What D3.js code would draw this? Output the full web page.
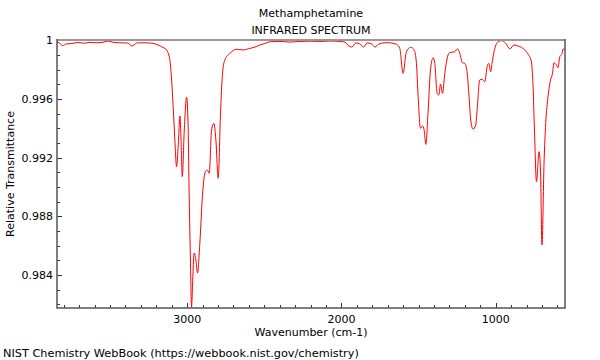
<!DOCTYPE html>
<html><head><meta charset="utf-8">
<script src="https://cdn.jsdelivr.net/npm/d3@7"></script>
<style>body{margin:0;background:#fff}svg{display:block}text{font-family:"DejaVu Sans",sans-serif;fill:#000}</style>
</head><body>
<svg id="c" width="600" height="360"></svg>
<script>
const wavenumber = [3842,3825,3805,3786,3747,3708,3669,3630,3591,3552,3514,3475,3436,3397,3378,3360,3345,3326,3293,3254,3216,3190,3157,3133,3122,3112,3101,3091,3080,3069,3058,3047,3040,3032,3019,3004,2995,2987,2979,2972,2963,2955,2944,2933,2918,2900,2885,2870,2857,2842,2827,2814,2799,2784,2771,2756,2723,2680,2637,2594,2561,2529,2497,2464,2399,2335,2270,2205,2140,2075,2010,1978,1952,1933,1907,1881,1855,1835,1809,1783,1757,1708,1643,1622,1601,1579,1551,1529,1514,1503,1488,1475,1464,1453,1439,1423,1406,1395,1380,1369,1358,1345,1330,1309,1298,1266,1248,1233,1216,1201,1186,1173,1162,1147,1130,1119,1104,1089,1071,1056,1045,1032,1024,1011,985,963,935,909,881,855,833,812,791,769,758,749,736,719,710,700,687,676,661,645,632,622,607,596,585,570,564,553];
const transmittance = [0.99990,0.99978,0.99963,0.99975,0.99978,0.99985,0.99980,0.99986,0.99983,0.99985,0.99995,0.99985,0.99983,0.99982,0.99978,0.99961,0.99968,0.99982,0.99983,0.99982,0.99978,0.99968,0.99951,0.99934,0.99907,0.99866,0.99729,0.99548,0.99321,0.99139,0.99287,0.99484,0.99321,0.99071,0.99389,0.99612,0.99457,0.98934,0.98503,0.98183,0.98401,0.98551,0.98503,0.98414,0.98619,0.98959,0.99096,0.99116,0.99094,0.99389,0.99434,0.99321,0.99060,0.99503,0.99775,0.99866,0.99911,0.99939,0.99934,0.99945,0.99954,0.99968,0.99978,0.99990,0.99992,0.99988,0.99992,0.99994,0.99992,0.99995,0.99992,0.99988,0.99961,0.99954,0.99982,0.99975,0.99954,0.99982,0.99978,0.99954,0.99975,0.99984,0.99973,0.99945,0.99775,0.99922,0.99952,0.99934,0.99843,0.99616,0.99400,0.99416,0.99389,0.99291,0.99503,0.99798,0.99881,0.99843,0.99639,0.99627,0.99702,0.99639,0.99775,0.99900,0.99916,0.99922,0.99941,0.99911,0.99847,0.99843,0.99786,0.99616,0.99457,0.99394,0.99423,0.99548,0.99729,0.99734,0.99718,0.99820,0.99843,0.99786,0.99843,0.99922,0.99990,0.99997,0.99980,0.99941,0.99968,0.99961,0.99952,0.99934,0.99907,0.99854,0.99684,0.99389,0.99036,0.99241,0.99116,0.98605,0.99162,0.99434,0.99616,0.99729,0.99775,0.99847,0.99832,0.99813,0.99888,0.99911,0.99941,0.99934];
const xMajorTicks = [3000,2000,1000];
const yMajorTicks = [1,0.996,0.992,0.988,0.984];
const yTickLabels = ["1","0.996","0.992","0.988","0.984"];
const xDomain = [3844,551];
const yDomain = [0.98176,1.00002];
const title1 = "Methamphetamine", title2 = "INFRARED SPECTRUM";
const xTitle = "Wavenumber (cm-1)", yTitle = "Relative Transmittance";
const footer = "NIST Chemistry WebBook (https://webbook.nist.gov/chemistry)";

const L=57,R=565,T=40,B=308;
const svg=d3.select("#c");
const x=d3.scaleLinear().domain(xDomain).range([L,R]);
const y=d3.scaleLinear().domain(yDomain).range([B,T]);
const data=wavenumber.map((w,i)=>({w,t:transmittance[i]}));

svg.append("clipPath").attr("id","clip").append("rect").attr("x",L).attr("y",T).attr("width",R-L).attr("height",B-T);
svg.append("path").datum(data).attr("clip-path","url(#clip)")
  .attr("fill","none").attr("stroke","#ff0000").attr("stroke-width",1)
  .attr("d",d3.line().x(d=>x(d.w)).y(d=>y(d.t)).curve(d3.curveMonotoneX));

// minor/major ticks (inward)
const xMinor=d3.range(600,3900,100).filter(v=>v<=xDomain[0]&&v>=xDomain[1]&&v%1000!==0);
const yMinor=d3.range(0,19).map(i=>+(0.982+i*0.001).toFixed(3)).filter(v=>v>=yDomain[0]&&v<=yDomain[1]&&!yMajorTicks.includes(v));
const g=svg.append("g").attr("stroke","#333").attr("stroke-width",1);
xMinor.forEach(v=>g.append("line").attr("x1",Math.round(x(v))+0.5).attr("x2",Math.round(x(v))+0.5).attr("y1",B).attr("y2",B-3));
xMajorTicks.forEach(v=>g.append("line").attr("x1",Math.round(x(v))+0.5).attr("x2",Math.round(x(v))+0.5).attr("y1",B).attr("y2",B-5));
yMinor.forEach(v=>g.append("line").attr("y1",Math.round(y(v))+0.5).attr("y2",Math.round(y(v))+0.5).attr("x1",L).attr("x2",L+3));
yMajorTicks.forEach(v=>g.append("line").attr("y1",Math.round(y(v))+0.5).attr("y2",Math.round(y(v))+0.5).attr("x1",L).attr("x2",L+5));

// frame
svg.append("line").attr("x1",L).attr("x2",R).attr("y1",T).attr("y2",T).attr("stroke","#999").attr("stroke-width",2);
svg.append("path").attr("d",`M${L},${T-1}V${B}H${R}V${T-1}`).attr("fill","none").attr("stroke","#555").attr("stroke-width",1.5);

// labels
const fs=11;
xMajorTicks.forEach(v=>svg.append("text").attr("x",x(v)).attr("y",322.5).attr("text-anchor","middle").attr("font-size",fs).text(d3.format("d")(v)));
yMajorTicks.forEach((v,i)=>svg.append("text").attr("x",L-4).attr("y",y(v)+4).attr("text-anchor","end").attr("font-size",fs).text(yTickLabels[i]));
svg.append("text").attr("x",(L+R)/2).attr("y",17).attr("text-anchor","middle").attr("font-size",fs).text(title1);
svg.append("text").attr("x",(L+R)/2).attr("y",34).attr("text-anchor","middle").attr("font-size",fs).text(title2);
svg.append("text").attr("x",(L+R)/2).attr("y",336).attr("text-anchor","middle").attr("font-size",fs).text(xTitle);
svg.append("text").attr("transform",`translate(14,${(T+B)/2}) rotate(-90)`).attr("text-anchor","middle").attr("font-size",fs).text(yTitle);
svg.append("text").attr("x",3).attr("y",356.5).attr("font-size",11.3).text(footer);
</script>
</body></html>
